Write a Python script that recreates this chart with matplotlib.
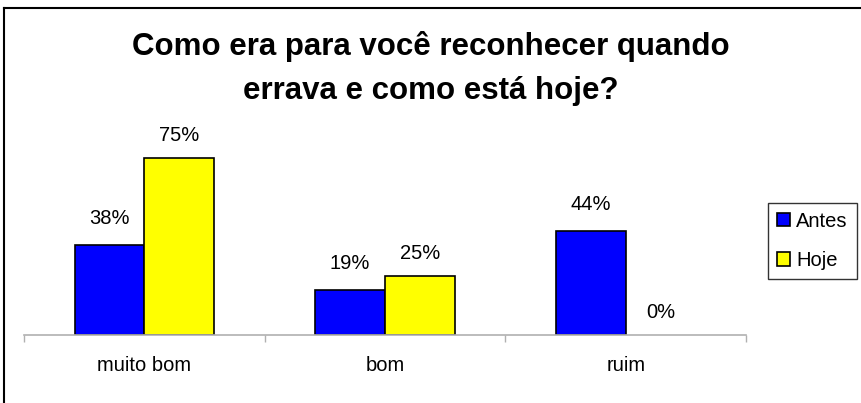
import matplotlib.pyplot as plt
import numpy as np
from matplotlib.lines import Line2D

categorias = ['muito bom', 'bom', 'ruim']
antes = [38, 19, 44]
hoje = [75, 25, 0]
series = ['Antes', 'Hoje']

plt.rcParams['font.family'] = ['Liberation Sans', 'DejaVu Sans']

fig = plt.figure(figsize=(8.61, 4.03), dpi=100, facecolor='w')
ax = fig.add_axes([0.0279, 0.1687, 0.8386, 0.469])

x = np.arange(len(categorias))
w = 0.29
b1 = ax.bar(x - w / 2, antes, w, color='#0000ff', edgecolor='black', linewidth=1.2, label=series[0])
b2 = ax.bar(x + w / 2, hoje, w, color='#ffff00', edgecolor='black', linewidth=1.2, label=series[1])
# Excel draws nothing for a 0 bar
for bar, v in zip(list(b1) + list(b2), antes + hoje):
    if v == 0:
        bar.set_visible(False)

for xi, v in zip(x - w / 2, antes):
    ax.annotate(f'{v}%', (xi, v), xytext=(0, 19), textcoords='offset points',
                ha='center', va='center', fontsize=14.5)
for xi, v in zip(x + w / 2, hoje):
    ax.annotate(f'{v}%', (xi, v), xytext=(0, 16), textcoords='offset points',
                ha='center', va='center', fontsize=14.5)

ax.set_xlim(-0.5, 2.5)
ax.set_ylim(0, 80)
ax.set_yticks([])
ax.set_xticks([-0.5, 0.5, 1.5, 2.5])
ax.set_xticklabels([])
ax.set_xticks(x, minor=True)
ax.set_xticklabels(categorias, minor=True, fontsize=14.5)
ax.tick_params(axis='x', which='major', direction='out', length=5, color='#b0b0b0', width=1)
ax.tick_params(axis='x', which='minor', length=0, pad=15)
for s in ['top', 'right', 'left']:
    ax.spines[s].set_visible(False)
ax.spines['bottom'].set_color('#b0b0b0')
ax.spines['bottom'].set_linewidth(1.2)

fig.text(0.5, 0.83, 'Como era para você reconhecer quando\nerrava e como está hoje?',
         ha='center', va='center', fontsize=22.5, fontweight='bold', linespacing=1.6)

leg = fig.legend(handles=[b1, b2], loc='upper left', bbox_to_anchor=(0.892, 0.497),
                 fontsize=14.5, frameon=True, fancybox=False, edgecolor='black',
                 handlelength=0.65, handleheight=0.65, handletextpad=0.3,
                 borderpad=0.45, labelspacing=1.0, borderaxespad=0)
leg.get_frame().set_linewidth(1.0)

# border only on the left and top (the rest is cut off in the original)
fig.lines.append(Line2D([0.0046, 0.0046], [0.0, 0.979], transform=fig.transFigure,
                        color='black', linewidth=1.5))
fig.lines.append(Line2D([0.0046, 1.0], [0.979, 0.979], transform=fig.transFigure,
                        color='black', linewidth=1.5))

fig.savefig('out.png', dpi=100)
